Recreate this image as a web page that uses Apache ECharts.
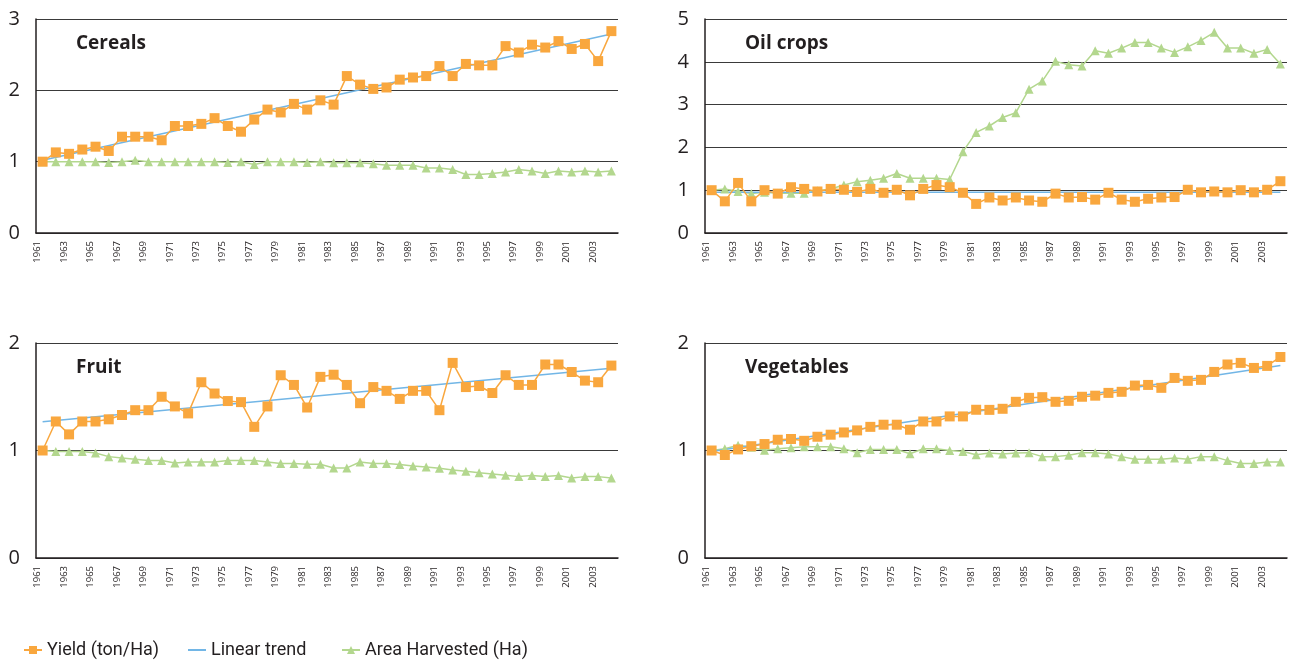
<!DOCTYPE html>
<html>
<head>
<meta charset="utf-8">
<title>Yield and area harvested, 1961-2004</title>
<script src="https://cdn.jsdelivr.net/npm/echarts@6/dist/echarts.min.js"></script>
<style>
  html, body { margin: 0; padding: 0; background: #fff; }
  #chart { width: 1290px; height: 660px; }
</style>
</head>
<body>
<div id="chart"></div>
<script>
  const years = [
    '1961', '1962', '1963', '1964', '1965', '1966', '1967', '1968', '1969', '1970',
    '1971', '1972', '1973', '1974', '1975', '1976', '1977', '1978', '1979', '1980',
    '1981', '1982', '1983', '1984', '1985', '1986', '1987', '1988', '1989', '1990',
    '1991', '1992', '1993', '1994', '1995', '1996', '1997', '1998', '1999', '2000',
    '2001', '2002', '2003', '2004'
  ];

  // Cereals
  const cerealsYield = [
    1.00, 1.13, 1.11, 1.17, 1.21, 1.15, 1.35, 1.35, 1.35, 1.30,
    1.50, 1.50, 1.53, 1.61, 1.50, 1.42, 1.59, 1.73, 1.69, 1.81,
    1.73, 1.86, 1.80, 2.20, 2.08, 2.02, 2.04, 2.15, 2.18, 2.20,
    2.34, 2.20, 2.37, 2.35, 2.35, 2.62, 2.53, 2.64, 2.60, 2.69,
    2.58, 2.65, 2.41, 2.83
  ];
  const cerealsArea = [
    1.00, 1.00, 1.00, 1.00, 1.00, 0.99, 1.00, 1.02, 1.00, 1.00,
    1.00, 1.00, 1.00, 1.00, 0.99, 1.00, 0.96, 1.00, 1.00, 1.00,
    0.99, 1.00, 0.985, 0.985, 0.985, 0.97, 0.95, 0.95, 0.95, 0.91,
    0.91, 0.89, 0.82, 0.82, 0.835, 0.855, 0.89, 0.87, 0.835, 0.87,
    0.855, 0.87, 0.855, 0.87
  ];
  const cerealsTrend = [1.02, 2.79]; // first and last year

  // Oil crops
  const oilYield = [
    1.00, 0.74, 1.17, 0.74, 1.00, 0.92, 1.07, 1.03, 0.97, 1.03,
    1.01, 0.96, 1.03, 0.94, 1.01, 0.88, 1.03, 1.12, 1.07, 0.94,
    0.68, 0.83, 0.76, 0.83, 0.76, 0.73, 0.92, 0.83, 0.84, 0.78,
    0.94, 0.78, 0.73, 0.80, 0.83, 0.84, 1.01, 0.95, 0.97, 0.95,
    1.00, 0.95, 1.01, 1.21
  ];
  const oilArea = [
    1.00, 1.03, 0.97, 0.92, 0.95, 0.93, 0.93, 0.93, 0.99, 1.03,
    1.12, 1.20, 1.23, 1.28, 1.39, 1.28, 1.28, 1.28, 1.25, 1.90,
    2.35, 2.50, 2.70, 2.81, 3.36, 3.55, 4.01, 3.93, 3.90, 4.26,
    4.20, 4.32, 4.45, 4.45, 4.32, 4.22, 4.35, 4.50, 4.69, 4.32,
    4.32, 4.20, 4.29, 3.95
  ];
  const oilTrend = [0.95, 0.95];

  // Fruit
  const fruitYield = [
    1.00, 1.27, 1.15, 1.27, 1.27, 1.29, 1.33, 1.375, 1.375, 1.50,
    1.41, 1.345, 1.635, 1.53, 1.46, 1.45, 1.22, 1.41, 1.70, 1.61,
    1.40, 1.685, 1.705, 1.61, 1.44, 1.59, 1.555, 1.48, 1.555, 1.555,
    1.375, 1.815, 1.59, 1.60, 1.535, 1.70, 1.61, 1.61, 1.80, 1.80,
    1.73, 1.65, 1.635, 1.79
  ];
  const fruitArea = [
    1.00, 0.99, 0.99, 0.99, 0.977, 0.943, 0.93, 0.918, 0.906, 0.906,
    0.884, 0.893, 0.893, 0.893, 0.906, 0.906, 0.906, 0.893, 0.88, 0.88,
    0.872, 0.872, 0.838, 0.838, 0.893, 0.88, 0.88, 0.869, 0.856, 0.847,
    0.835, 0.819, 0.807, 0.794, 0.782, 0.77, 0.757, 0.767, 0.757, 0.767,
    0.745, 0.757, 0.757, 0.745
  ];
  const fruitTrend = [1.267, 1.765];

  // Vegetables
  const vegYield = [
    1.00, 0.958, 1.01, 1.04, 1.06, 1.10, 1.107, 1.09, 1.128, 1.147,
    1.168, 1.187, 1.22, 1.24, 1.24, 1.193, 1.27, 1.27, 1.317, 1.317,
    1.379, 1.378, 1.388, 1.453, 1.49, 1.496, 1.453, 1.462, 1.50, 1.51,
    1.536, 1.546, 1.604, 1.61, 1.583, 1.675, 1.648, 1.657, 1.731, 1.80,
    1.815, 1.768, 1.787, 1.87
  ];
  const vegArea = [
    1.00, 1.016, 1.048, 1.03, 1.003, 1.016, 1.026, 1.035, 1.035, 1.035,
    1.016, 0.98, 1.01, 1.01, 1.01, 0.97, 1.016, 1.016, 1.00, 0.99,
    0.96, 0.976, 0.967, 0.977, 0.98, 0.943, 0.943, 0.955, 0.98, 0.98,
    0.967, 0.943, 0.918, 0.918, 0.918, 0.93, 0.918, 0.943, 0.943, 0.906,
    0.88, 0.88, 0.893, 0.893
  ];
  const vegTrend = [0.99, 1.79];

  const YIELD = 'Yield (ton/Ha)';
  const TREND = 'Linear trend';
  const AREA = 'Area Harvested (Ha)';

  const orange = '#f9a73e';
  const blue = '#72b6e6';
  const green = '#b3d78e';
  const ink = '#231f20';
  const font = '"Open Sans", "Noto Sans", sans-serif';

  const panels = [
    {name: 'Cereals', yld: cerealsYield, area: cerealsArea, trend: cerealsTrend, max: 3, left: 36, top: 19, height: 214},
    {name: 'Oil crops', yld: oilYield, area: oilArea, trend: oilTrend, max: 5, left: 705, top: 19, height: 214},
    {name: 'Fruit', yld: fruitYield, area: fruitArea, trend: fruitTrend, max: 2, left: 36, top: 343, height: 215},
    {name: 'Vegetables', yld: vegYield, area: vegArea, trend: vegTrend, max: 2, left: 705, top: 343, height: 215}
  ];

  // trend line only has its two end values, the rest stays empty
  function trendData(ends) {
    return years.map((y, i) => i === 0 ? ends[0] : (i === years.length - 1 ? ends[1] : null));
  }

  const grid = [], xAxis = [], yAxis = [], title = [], series = [];

  panels.forEach((p, i) => {
    grid.push({left: p.left, top: p.top, width: 582, height: p.height});

    title.push({
      text: p.name,
      left: p.left + 35,
      top: p.top + 10,
      textStyle: {fontFamily: font, fontSize: 19, fontWeight: 'bold', color: ink}
    });

    xAxis.push({
      type: 'category',
      gridIndex: i,
      data: years,
      boundaryGap: true,
      axisLine: {lineStyle: {color: ink, width: 1.5}},
      axisTick: {interval: 0, length: 5, lineStyle: {color: ink, width: 1}},
      axisLabel: {
        interval: 1,
        rotate: 90,
        margin: 8,
        verticalAlign: 'bottom',
        fontFamily: font,
        fontSize: 9.5,
        color: ink
      },
      splitLine: {show: false}
    });

    yAxis.push({
      type: 'value',
      gridIndex: i,
      min: 0,
      max: p.max,
      interval: 1,
      axisLine: {show: true, lineStyle: {color: ink, width: 1.5}},
      axisTick: {show: false},
      axisLabel: {margin: 16, fontFamily: font, fontSize: 20, color: ink},
      splitLine: {lineStyle: {color: '#3a3a3a', width: 1}}
    });

    series.push({
      name: AREA,
      type: 'line',
      xAxisIndex: i,
      yAxisIndex: i,
      data: p.area,
      symbol: 'triangle',
      symbolSize: 9,
      showAllSymbol: true,
      itemStyle: {color: green},
      lineStyle: {color: green, width: 1.5},
      animation: false
    });
    series.push({
      name: TREND,
      type: 'line',
      xAxisIndex: i,
      yAxisIndex: i,
      data: trendData(p.trend),
      connectNulls: true,
      showSymbol: false,
      itemStyle: {color: blue},
      lineStyle: {color: blue, width: 1.5},
      animation: false
    });
    series.push({
      name: YIELD,
      type: 'line',
      xAxisIndex: i,
      yAxisIndex: i,
      data: p.yld,
      symbol: 'rect',
      symbolSize: 10,
      showAllSymbol: true,
      itemStyle: {color: orange},
      lineStyle: {color: orange, width: 1.5},
      animation: false
    });
  });

  const legendText = {fontFamily: '"Roboto", "Noto Sans", sans-serif', fontSize: 18, color: ink};
  const legend = [
    {data: [YIELD], left: 18, top: 636, itemWidth: 18, itemHeight: 10, textStyle: legendText},
    {data: [{name: TREND, icon: 'rect'}], left: 183, top: 636, itemWidth: 18, itemHeight: 2, textStyle: legendText},
    {data: [AREA], left: 336, top: 636, itemWidth: 18, itemHeight: 10, textStyle: legendText}
  ];

  const chart = echarts.init(document.getElementById('chart'), null, {renderer: 'canvas'});
  chart.setOption({
    backgroundColor: '#fff',
    animation: false,
    title: title,
    legend: legend,
    grid: grid,
    xAxis: xAxis,
    yAxis: yAxis,
    series: series
  });
</script>
</body>
</html>
